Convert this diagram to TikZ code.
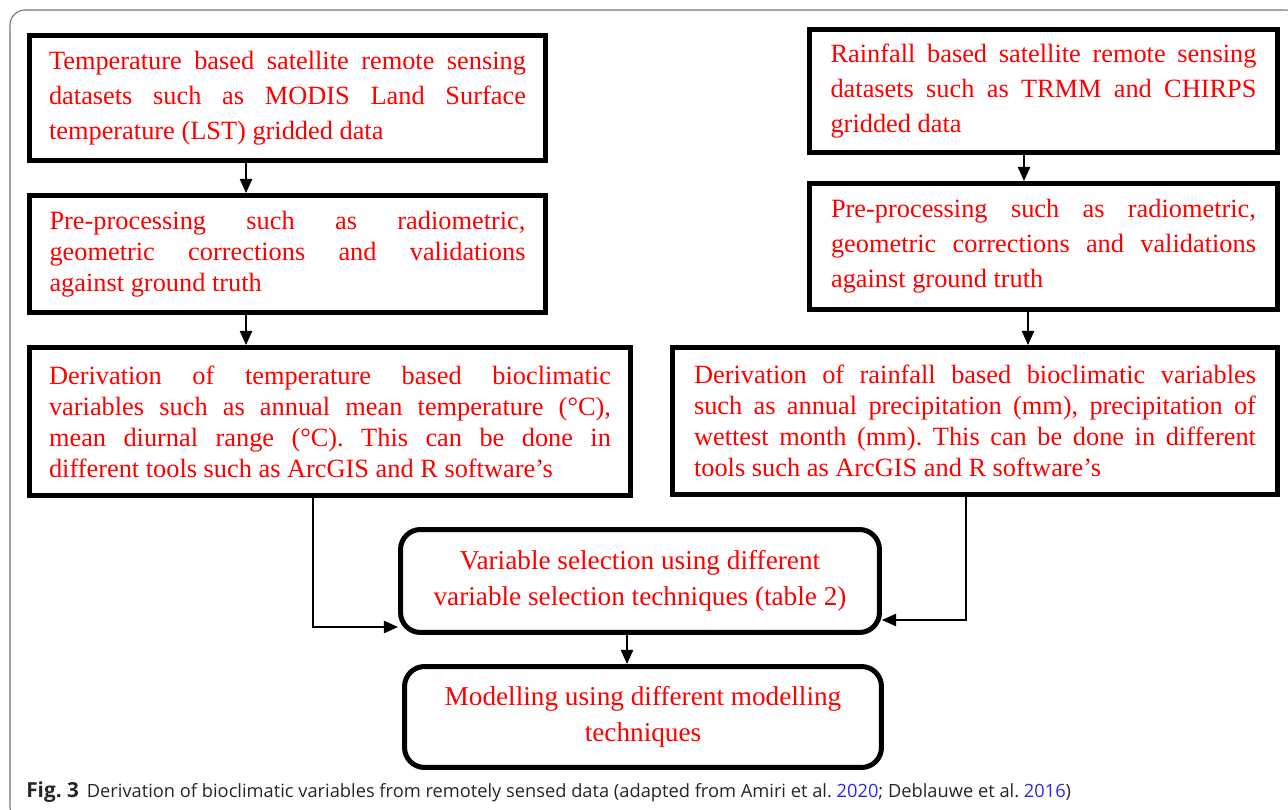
\documentclass[tikz,border=0pt]{standalone}
\usepackage{fontspec}
\setmainfont{Liberation Serif}
\newfontfamily\capfont{Open Sans}
\usetikzlibrary{arrows.meta,positioning}
\definecolor{citeblue}{RGB}{40,40,235}

\begin{document}
\frenchspacing
\begin{tikzpicture}[x=0.02cm, y=-0.02cm,
                box/.style = {draw, line width=2.85pt, text=red, align=justify, inner sep=0pt,
                              font={\fontsize{15pt}{19.9pt}\selectfont\tolerance=10000\hyphenpenalty=10000}},
                tightbox/.style = {box, font={\fontsize{15pt}{17.6pt}\selectfont\tolerance=10000\hyphenpenalty=10000}},
                roundbox/.style = {box, rounded corners=0.4cm, align=center,
                                   font={\fontsize{15.5pt}{20.5pt}\selectfont}},
                flow/.style = {draw, line width=0.8pt, -{Triangle[length=8pt,width=7pt]}}
                ]
                \clip (0,0) rectangle (1288,810);
                \draw[black!55, line width=0.6pt, rounded corners=0.3cm] (10,10) rectangle (1300,822);

                % temperature column
                \node[box, text width=9.54cm, minimum width=10.32cm, minimum height=2.5cm] (tsat) at (287.5,98)
                    {Temperature based satellite remote sensing \linebreak datasets such as MODIS Land Surface \linebreak temperature (LST) gridded data};
                \node[tightbox, text width=9.52cm, minimum width=10.32cm, minimum height=2.34cm] (tpre) at (287.5,254)
                    {Pre-processing such as radiometric, \linebreak geometric corrections and validations \linebreak against ground truth};
                \node[tightbox, text width=11.24cm, minimum width=12.02cm, minimum height=2.96cm] (tder) at (330,421.5)
                    {Derivation of temperature based bioclimatic \linebreak variables such as annual mean temperature (°C), \linebreak mean diurnal range (°C). This can be done in \linebreak different tools such as ArcGIS and R software’s};

                % rainfall column
                \node[box, text width=8.52cm, minimum width=9.36cm, minimum height=2.46cm] (rsat) at (1043.5,91)
                    {Rainfall based satellite remote sensing \linebreak datasets such as TRMM and CHIRPS \linebreak gridded data};
                \node[box, text width=8.5cm, minimum width=9.36cm, minimum height=2.52cm] (rpre) at (1043.5,246.5)
                    {Pre-processing such as radiometric, \linebreak geometric corrections and validations \linebreak against ground truth};
                \node[tightbox, text width=11.24cm, minimum width=12.1cm, minimum height=2.94cm] (rder) at (975,421)
                    {Derivation of rainfall based bioclimatic variables \linebreak such as annual precipitation (mm), precipitation of \linebreak wettest month (mm). This can be done in different \linebreak tools such as ArcGIS and R software’s};

                % common steps
                \node[roundbox, minimum width=9.58cm, minimum height=2.06cm] (sel) at (640,581)
                    {Variable selection using different\\variable selection techniques (table 2)};
                \node[roundbox, minimum width=9.54cm, minimum height=2.02cm] (model) at (643,717)
                    {Modelling using different modelling\\techniques};

                \draw[flow] (tsat.south -| 246,0) -- (tpre.north -| 246,0);
                \draw[flow] (tpre.south -| 246,0) -- (tder.north -| 246,0);
                \draw[flow] (rsat.south -| 1024,0) -- (rpre.north -| 1024,0);
                \draw[flow] (rpre.south -| 1028,0) -- (rder.north -| 1028,0);
                \draw[flow] (tder.south -| 313,0) |- (sel.west |- 0,627);
                \draw[flow] (rder.south -| 966,0) |- (sel.east |- 0,620);
                \draw[flow] (sel.south -| 627,0) -- (model.north -| 627,0);

                \node[anchor=base west, inner sep=0pt, text=black!85, font=\capfont\fontsize{10.4pt}{12pt}\selectfont] (caption) at (26,797)
                    {{\fontsize{11.8pt}{12pt}\selectfont\textbf{Fig. 3}}\hspace{0.16cm}Derivation of bioclimatic variables from remotely sensed data (adapted from Amiri et al. \textcolor{citeblue}{2020}; Deblauwe et al. \textcolor{citeblue}{2016})};
            \end{tikzpicture}
\end{document}
